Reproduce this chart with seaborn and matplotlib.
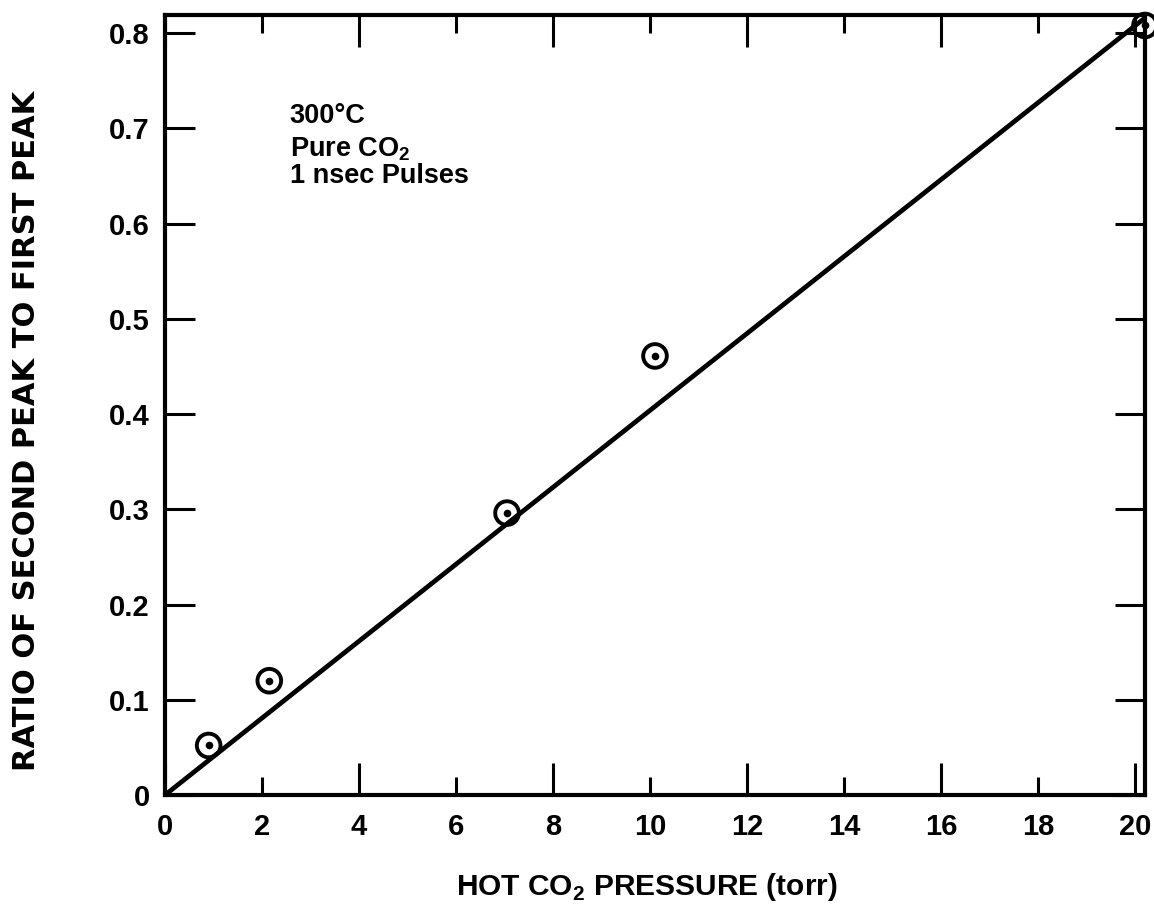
import matplotlib
matplotlib.use("Agg")
import matplotlib.pyplot as plt
import seaborn as sns
import pandas as pd

# ---- data ----
pressure = [0.9, 2.15, 7.05, 10.1, 20.2]          # hot CO2 pressure (torr)
ratio = [0.052, 0.120, 0.296, 0.461, 0.808]        # second peak / first peak
fit_pressure = [0.0, 20.2]                         # fitted straight line
fit_ratio = [0.0, 0.816]
x_major = [0, 4, 8, 12, 16, 20]
x_minor = [2, 6, 10, 14, 18]
y_ticks = [0, 0.1, 0.2, 0.3, 0.4, 0.5, 0.6, 0.7, 0.8]
y_labels = ["0", "0.1", "0.2", "0.3", "0.4", "0.5", "0.6", "0.7", "0.8"]
note_lines = ["300°C", r"Pure CO$_\mathbf{2}$", "1 nsec Pulses"]
note_y = [0.7055, 0.670, 0.6425]

sns.set_theme(style="ticks")
HF = "Liberation Sans"
plt.rcParams["font.family"] = [HF, "DejaVu Sans"]
plt.rcParams["mathtext.fontset"] = "custom"
plt.rcParams["mathtext.rm"] = HF
plt.rcParams["mathtext.bf"] = HF + ":bold"

df = pd.DataFrame({"p": pressure, "r": ratio})
fit = pd.DataFrame({"p": fit_pressure, "r": fit_ratio})

fig = plt.figure(figsize=(11.54, 9.11), dpi=100)
ax = fig.add_axes([0.14298, 0.12733, 0.8492, 0.8562])

sns.lineplot(data=fit, x="p", y="r", ax=ax, color="black", linewidth=3.4)
sns.scatterplot(data=df, x="p", y="r", ax=ax, marker="o", s=290,
                facecolor="none", edgecolor="black", linewidth=2.8,
                clip_on=False, zorder=5)
sns.scatterplot(data=df, x="p", y="r", ax=ax, marker="o", s=30,
                color="black", edgecolor="black", linewidth=0,
                clip_on=False, zorder=6)

ax.set_xlim(0, 20.2)
ax.set_ylim(0, 0.819)

for s in ax.spines.values():
    s.set_linewidth(3)
    s.set_color("black")

tick_font = dict(fontsize=21, fontweight="bold", family=HF)
ax.set_xticks(x_major)
ax.set_xticklabels([str(v) for v in x_major], **tick_font)
ax.set_xticks(x_minor, minor=True)
ax.set_xticklabels([str(v) for v in x_minor], minor=True, **tick_font)
ax.set_yticks(y_ticks)
ax.set_yticklabels(y_labels, **tick_font)

ax.tick_params(axis="x", which="major", direction="in", length=23, width=2.2,
               top=True, bottom=True, pad=13, colors="black")
ax.tick_params(axis="x", which="minor", direction="in", length=13, width=2.2,
               top=True, bottom=True, pad=13, colors="black")
ax.tick_params(axis="y", which="major", direction="in", length=21.5, width=2.2,
               left=True, right=True, pad=11, colors="black")

ax.set_xlabel(r"HOT CO$_\mathbf{2}$ PRESSURE (torr)", fontsize=21.5,
              fontweight="bold", family=HF, color="black")
ax.xaxis.set_label_coords(0.492, -0.098)
ax.set_ylabel("RATIO OF SECOND PEAK TO FIRST PEAK", fontsize=22,
              fontweight="bold", family="DejaVu Sans", color="black")
ax.yaxis.set_label_coords(-0.127, 0.467)

for txt, yy in zip(note_lines, note_y):
    ax.text(2.57, yy, txt, fontsize=19.5, fontweight="bold", family=HF,
            ha="left", va="baseline", color="black")

fig.savefig("out.png", dpi=100, facecolor="white")
